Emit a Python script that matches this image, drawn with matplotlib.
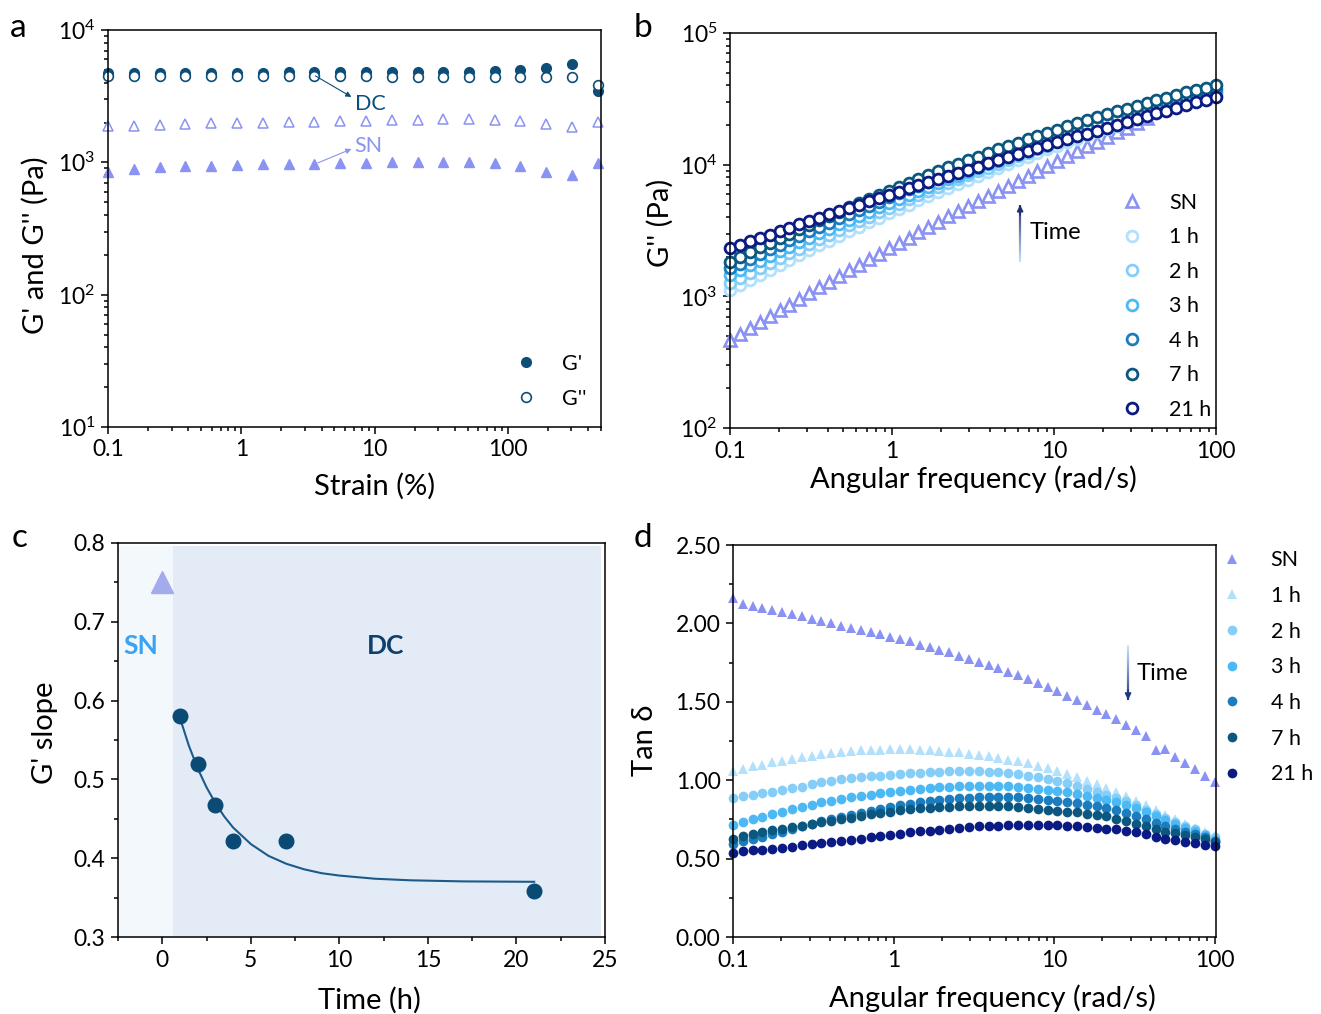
import numpy as np
import matplotlib
matplotlib.use("Agg")
import matplotlib.pyplot as plt
from matplotlib.collections import LineCollection
from matplotlib.ticker import MultipleLocator, LogLocator, NullFormatter
import matplotlib.colors as mcolors

plt.rcParams['font.family'] = ['Lato', 'DejaVu Sans']
plt.rcParams['mathtext.fontset'] = 'custom'
plt.rcParams['mathtext.rm'] = 'Lato'
plt.rcParams['mathtext.it'] = 'Lato:italic'
plt.rcParams['mathtext.default'] = 'regular'
plt.rcParams['axes.linewidth'] = 1.1

# ---------------- data ----------------
# panel a : strain sweep
strain = [0.1, 0.156, 0.244, 0.381, 0.594, 0.93, 1.45, 2.26, 3.53, 5.51,
          8.6, 13.4, 21.0, 32.7, 51.1, 79.7, 124, 194, 303, 473]
dc_gp = [4700, 4720, 4730, 4740, 4750, 4760, 4770, 4780, 4790, 4800,
         4810, 4820, 4830, 4840, 4850, 4870, 4950, 5200, 5550, 3450]
dc_gpp = [4480, 4470, 4460, 4460, 4460, 4460, 4460, 4460, 4460, 4460,
          4460, 4450, 4450, 4450, 4450, 4440, 4440, 4430, 4420, 3850]
sn_gpp = [1892, 1892, 1916, 1950, 1972, 1984, 1996, 2019, 2030, 2042,
          2066, 2090, 2100, 2113, 2113, 2100, 2066, 1950, 1862, 2006]
sn_gp = [839, 891, 917, 933, 944, 955, 966, 971, 977, 988,
         994, 1000, 1006, 1006, 1006, 988, 933, 849, 802, 983]

# angular frequency grid (rad/s)
omega = [0.1, 0.1151, 0.1326, 0.1526, 0.1758, 0.2024, 0.2330, 0.2683, 0.3089, 0.3556,
         0.4095, 0.4715, 0.5429, 0.6251, 0.7197, 0.8287, 0.9541, 1.0985, 1.2649, 1.4563,
         1.6768, 1.9307, 2.2230, 2.5595, 2.9471, 3.3932, 3.9069, 4.4984, 5.1795, 5.9636,
         6.8665, 7.9060, 9.1030, 10.481, 12.068, 13.895, 15.999, 18.421, 21.210, 24.421,
         28.118, 32.375, 37.276, 42.919, 49.417, 56.898, 65.512, 75.431, 86.851, 100.0]

time_labels = ['SN', '1 h', '2 h', '3 h', '4 h', '7 h', '21 h']

# panel b : G'' (Pa)
b_sn = [466, 517, 574, 636, 705, 781, 865, 957, 1058, 1169,
        1291, 1425, 1572, 1733, 1909, 2102, 2312, 2543, 2794, 3069,
        3370, 3695, 4052, 4440, 4862, 5318, 5817, 6362, 6946, 7584,
        8273, 9021, 9829, 10700, 11650, 12670, 13770, 14960, 16240, 17630,
        19120, 20720, 22440]
b_1h = [1117, 1222, 1337, 1461, 1594, 1739, 1895, 2063, 2245, 2440,
        2650, 2875, 3117, 3376, 3653, 3953, 4267, 4607, 4967, 5353,
        5764, 6200, 6663, 7155, 7674, 8228, 8810, 9428, 10080, 10770,
        11490, 12250, 13050, 13890, 14770, 15700, 16670, 17680, 18740, 19850,
        21000, 22200, 23440, 24740, 26080, 27470, 28910, 30410, 31950, 33540]
b_2h = [1259, 1376, 1503, 1640, 1788, 1948, 2120, 2305, 2503, 2716,
        2946, 3192, 3454, 3735, 4036, 4357, 4699, 5063, 5450, 5863,
        6300, 6763, 7253, 7776, 8326, 8906, 9517, 10160, 10850, 11560,
        12310, 13100, 13920, 14790, 15690, 16640, 17620, 18650, 19710, 20820,
        21980, 23180, 24420, 25700, 27030, 28400, 29810, 31260, 32760, 34290]
b_3h = [1452, 1580, 1718, 1866, 2025, 2196, 2380, 2578, 2788, 3016,
        3256, 3516, 3792, 4086, 4400, 4735, 5091, 5466, 5869, 6295,
        6745, 7223, 7729, 8264, 8828, 9422, 10050, 10710, 11400, 12130,
        12900, 13700, 14540, 15430, 16350, 17310, 18320, 19370, 20460, 21600,
        22780, 24010, 25270, 26600, 27960, 29380, 30830, 32350, 33890, 35500]
b_4h = [1633, 1776, 1929, 2094, 2270, 2459, 2663, 2881, 3114, 3363,
        3629, 3915, 4216, 4539, 4882, 5248, 5636, 6047, 6483, 6947,
        7433, 7955, 8502, 9077, 9683, 10320, 11000, 11710, 12450, 13230,
        14050, 14900, 15790, 16730, 17710, 18720, 19780, 20880, 22030, 23220,
        24460, 25730, 27060, 28430, 29840, 31300, 32810, 34360, 35950, 37580]
b_7h = [1832, 1994, 2166, 2353, 2553, 2767, 2998, 3243, 3506, 3788,
        4087, 4408, 4749, 5111, 5497, 5906, 6341, 6801, 7291, 7806,
        8350, 8924, 9528, 10170, 10840, 11540, 12280, 13060, 13870, 14720,
        15610, 16540, 17510, 18510, 19560, 20650, 21780, 22950, 24170, 25420,
        26720, 28050, 29440, 30860, 32320, 33830, 35360, 36940, 38550, 40190]
b_21h = [2317, 2461, 2615, 2776, 2945, 3125, 3316, 3516, 3727, 3953,
         4187, 4436, 4698, 4975, 5266, 5574, 5897, 6237, 6596, 6974,
         7370, 7790, 8228, 8690, 9175, 9685, 10220, 10790, 11370, 11990,
         12640, 13330, 14040, 14790, 15580, 16400, 17260, 18160, 19110, 20100,
         21130, 22220, 23350, 24530, 25770, 27060, 28400, 29820, 31280, 32820]

# panel c : G' slope vs time
c_sn_time = [0]
c_sn_slope = [0.75]
c_dc_time = [1, 2, 3, 4, 7, 21]
c_dc_slope = [0.58, 0.52, 0.468, 0.422, 0.422, 0.358]
c_fit_time = [1, 1.5, 2, 2.5, 3, 3.5, 4, 5, 6, 7, 8, 9, 10, 12, 14, 17, 21]
c_fit_slope = [0.578, 0.543, 0.514, 0.490, 0.470, 0.453, 0.439, 0.418, 0.403,
               0.393, 0.386, 0.381, 0.378, 0.374, 0.372, 0.3706, 0.3701]

# panel d : tan delta
d_sn = [2.16, 2.125, 2.11, 2.10, 2.085, 2.075, 2.06, 2.045, 2.03, 2.015,
        2.00, 1.985, 1.97, 1.96, 1.945, 1.93, 1.915, 1.90, 1.885, 1.865,
        1.85, 1.83, 1.815, 1.795, 1.775, 1.755, 1.735, 1.715, 1.69, 1.67,
        1.645, 1.62, 1.595, 1.57, 1.54, 1.51, 1.48, 1.45, 1.42, 1.39,
        1.35, 1.32, 1.28, 1.19, 1.20, 1.15, 1.11, 1.07, 1.03, 0.99]
d_1h = [1.056, 1.07, 1.088, 1.10, 1.114, 1.125, 1.135, 1.148, 1.156, 1.165,
        1.173, 1.18, 1.185, 1.19, 1.193, 1.195, 1.197, 1.198, 1.197, 1.195,
        1.192, 1.188, 1.183, 1.178, 1.17, 1.162, 1.153, 1.143, 1.132, 1.12,
        1.107, 1.092, 1.077, 1.06, 1.04, 1.02, 0.998, 0.975, 0.95, 0.925,
        0.898, 0.87, 0.84, 0.81, 0.78, 0.75, 0.72, 0.695, 0.67, 0.645]
d_2h = [0.888, 0.897, 0.907, 0.917, 0.928, 0.94, 0.95, 0.96, 0.975, 0.987,
        0.998, 1.008, 1.015, 1.02, 1.025, 1.03, 1.035, 1.04, 1.045, 1.049,
        1.052, 1.054, 1.056, 1.057, 1.057, 1.056, 1.053, 1.05, 1.045, 1.038,
        1.03, 1.02, 1.008, 0.995, 0.98, 0.962, 0.945, 0.927, 0.907, 0.887,
        0.865, 0.84, 0.812, 0.785, 0.758, 0.733, 0.71, 0.688, 0.66, 0.635]
d_3h = [0.716, 0.735, 0.752, 0.768, 0.784, 0.80, 0.815, 0.83, 0.845, 0.858,
        0.87, 0.88, 0.89, 0.899, 0.908, 0.916, 0.924, 0.932, 0.939, 0.945,
        0.95, 0.955, 0.959, 0.962, 0.964, 0.965, 0.965, 0.964, 0.961, 0.957,
        0.952, 0.946, 0.939, 0.931, 0.922, 0.912, 0.90, 0.888, 0.875, 0.86,
        0.843, 0.822, 0.797, 0.772, 0.745, 0.72, 0.698, 0.675, 0.652, 0.62]
d_4h = [0.595, 0.61, 0.624, 0.637, 0.654, 0.671, 0.688, 0.705, 0.722, 0.737,
        0.752, 0.764, 0.777, 0.79, 0.803, 0.816, 0.829, 0.839, 0.85, 0.858,
        0.866, 0.873, 0.879, 0.884, 0.887, 0.891, 0.893, 0.894, 0.893, 0.891,
        0.888, 0.882, 0.877, 0.87, 0.862, 0.853, 0.843, 0.833, 0.822, 0.808,
        0.794, 0.773, 0.752, 0.728, 0.705, 0.688, 0.673, 0.657, 0.641, 0.615]
d_7h = [0.625, 0.645, 0.658, 0.668, 0.68, 0.69, 0.70, 0.71, 0.72, 0.733,
        0.741, 0.752, 0.762, 0.773, 0.784, 0.79, 0.80, 0.807, 0.816, 0.82,
        0.824, 0.828, 0.831, 0.833, 0.835, 0.837, 0.837, 0.836, 0.834, 0.83,
        0.826, 0.818, 0.812, 0.806, 0.80, 0.795, 0.787, 0.778, 0.769, 0.753,
        0.737, 0.72, 0.705, 0.69, 0.673, 0.662, 0.652, 0.64, 0.625, 0.605]
d_21h = [0.539, 0.55, 0.553, 0.557, 0.561, 0.569, 0.577, 0.584, 0.592, 0.60,
         0.607, 0.613, 0.62, 0.628, 0.637, 0.645, 0.652, 0.66, 0.669, 0.674,
         0.679, 0.685, 0.692, 0.697, 0.701, 0.705, 0.708, 0.711, 0.714, 0.716,
         0.717, 0.716, 0.715, 0.713, 0.71, 0.707, 0.703, 0.698, 0.692, 0.686,
         0.679, 0.67, 0.658, 0.64, 0.624, 0.616, 0.609, 0.60, 0.59, 0.578]

# ---------------- styles ----------------
C_SN = '#8A93F3'
C_DC = '#0C4E7A'
time_colors = ['#8A93F3', '#B3E0FB', '#86CEF8', '#4CB9F5', '#1C7DBE', '#0C577F', '#0B1B83']
FS_TICK = 16.5
FS_LAB = 21
FS_LEG = 15.5
FS_PANEL = 24


def style_axis(ax):
    ax.tick_params(which='both', direction='out', width=1.1, top=False, right=False,
                   labelsize=FS_TICK, pad=4)
    ax.tick_params(which='major', length=5)
    ax.tick_params(which='minor', length=3)


def gradient_arrow(ax, x, y_start, y_end, c_start, c_end):
    n = 30
    frac = np.linspace(0, 1, n + 1)
    ys = y_start + (y_end - y_start) * frac
    segs = [[(x, ys[i]), (x, ys[i + 1])] for i in range(n)]
    c0 = np.array(mcolors.to_rgb(c_start))
    c1 = np.array(mcolors.to_rgb(c_end))
    cols = [tuple(c0 + (c1 - c0) * f) for f in frac[:-1]]
    lc = LineCollection(segs, colors=cols, linewidths=1.6, transform=ax.transAxes)
    ax.add_collection(lc, autolim=False)
    direction = 1 if y_end > y_start else -1
    ax.annotate('', xy=(x, y_end), xytext=(x, y_end - 0.025 * direction),
                xycoords='axes fraction', textcoords='axes fraction',
                arrowprops=dict(arrowstyle='-|>', color=c_end, lw=1.2,
                                mutation_scale=9, shrinkA=0, shrinkB=0))


fig = plt.figure(figsize=(13.21, 10.14), dpi=100)
axa = fig.add_axes([0.0818, 0.5789, 0.3732, 0.3915])
axb = fig.add_axes([0.5526, 0.5779, 0.3679, 0.3895])
axc = fig.add_axes([0.0893, 0.0759, 0.3687, 0.3886])
axd = fig.add_axes([0.5549, 0.0759, 0.3656, 0.3866])

# ---------------- panel a ----------------
axa.plot(strain, sn_gp, ls='none', marker='^', ms=7.5, color=C_SN, mec=C_SN, clip_on=False)
axa.plot(strain, sn_gpp, ls='none', marker='^', ms=7.5, mfc='white', mec=C_SN, mew=1.1, clip_on=False)
h_gp, = axa.plot(strain, dc_gp, ls='none', marker='o', ms=7, color=C_DC, mec=C_DC, clip_on=False)
h_gpp, = axa.plot(strain, dc_gpp, ls='none', marker='o', ms=7, mfc='white', mec=C_DC, mew=1.2, clip_on=False)
axa.set_xscale('log')
axa.set_yscale('log')
axa.set_xlim(0.1, 500)
axa.set_ylim(10, 1e4)
axa.set_xticks([0.1, 1, 10, 100])
axa.set_xticklabels(['0.1', '1', '10', '100'])
axa.set_yticks([10, 100, 1000, 10000])
axa.set_yticklabels([r'$10^{1}$', r'$10^{2}$', r'$10^{3}$', r'$10^{4}$'])
axa.xaxis.set_minor_locator(LogLocator(base=10, subs=np.arange(2, 10)))
axa.yaxis.set_minor_locator(LogLocator(base=10, subs=np.arange(2, 10)))
axa.xaxis.set_minor_formatter(NullFormatter())
axa.yaxis.set_minor_formatter(NullFormatter())
style_axis(axa)
axa.set_xlabel('Strain (%)', fontsize=FS_LAB)
axa.set_ylabel("G' and G'' (Pa)", fontsize=FS_LAB)
axa.xaxis.set_label_coords(0.54, -0.15)
axa.yaxis.set_label_coords(-0.148, 0.458)
axa.xaxis.label.set_va('center')
axa.yaxis.label.set_va('center')
axa.annotate('', xy=(6.7, 3120), xytext=(3.6, 4500),
             arrowprops=dict(arrowstyle='-|>', color=C_DC, lw=0.8, mutation_scale=8,
                             shrinkA=0, shrinkB=0))
axa.text(9.3, 2760, 'DC', color=C_DC, fontsize=15.5, ha='center', va='center')
axa.annotate('', xy=(6.7, 1262), xytext=(3.75, 990),
             arrowprops=dict(arrowstyle='-|>', color=C_SN, lw=0.8, mutation_scale=8,
                             shrinkA=0, shrinkB=0))
axa.text(9.0, 1330, 'SN', color=C_SN, fontsize=15.5, ha='center', va='center')
axa.legend([h_gp, h_gpp], ["G'", "G''"], loc='upper left', bbox_to_anchor=(0.8256, 0.184),
           frameon=False, fontsize=FS_LEG, handlelength=1.0, handletextpad=1.16,
           labelspacing=0.68, borderpad=0, borderaxespad=0)

# ---------------- panel b ----------------
b_series = [b_1h, b_2h, b_3h, b_4h, b_7h, b_21h]
handles_b = []
h, = axb.plot(omega[:len(b_sn)], b_sn, ls='none', marker='^', ms=9, mfc='none',
              mec=time_colors[0], mew=1.9, clip_on=False)
handles_b.append(h)
for vals, col in zip(b_series, time_colors[1:]):
    h, = axb.plot(omega, vals, ls='none', marker='o', ms=7.8, mfc='white', mec=col,
                  mew=2.0, clip_on=False)
    handles_b.append(h)
axb.set_xscale('log')
axb.set_yscale('log')
axb.set_xlim(0.1, 100)
axb.set_ylim(100, 1e5)
axb.set_xticks([0.1, 1, 10, 100])
axb.set_xticklabels(['0.1', '1', '10', '100'])
axb.set_yticks([100, 1000, 10000, 100000])
axb.set_yticklabels([r'$10^{2}$', r'$10^{3}$', r'$10^{4}$', r'$10^{5}$'])
axb.xaxis.set_minor_locator(LogLocator(base=10, subs=np.arange(2, 10)))
axb.yaxis.set_minor_locator(LogLocator(base=10, subs=np.arange(2, 10)))
axb.xaxis.set_minor_formatter(NullFormatter())
axb.yaxis.set_minor_formatter(NullFormatter())
style_axis(axb)
axb.set_xlabel('Angular frequency (rad/s)', fontsize=FS_LAB)
axb.set_ylabel("G'' (Pa)", fontsize=FS_LAB)
axb.xaxis.set_label_coords(0.50, -0.13)
axb.yaxis.set_label_coords(-0.144, 0.52)
axb.xaxis.label.set_va('center')
axb.yaxis.label.set_va('center')
axb.legend(handles_b, time_labels, loc='upper left', bbox_to_anchor=(0.8045, 0.595),
           frameon=False, fontsize=FS_LEG, handlelength=1.0, handletextpad=1.25,
           labelspacing=0.67, borderpad=0, borderaxespad=0)
gradient_arrow(axb, 0.597, 0.42, 0.565, '#C8DDF8', '#1F2F70')
axb.text(0.617, 0.494, 'Time', transform=axb.transAxes, fontsize=17, ha='left', va='center')

# ---------------- panel c ----------------
axc.axvspan(-2.5, 0.6, ymin=0, ymax=0.993, color='#F3F8FD', lw=0, zorder=0)
axc.axvspan(0.6, 24.75, ymin=0, ymax=0.993, color='#E3ECF6', lw=0, zorder=0)
axc.plot(c_fit_time, c_fit_slope, color='#1B5A8A', lw=1.5, zorder=2)
axc.plot(c_sn_time, c_sn_slope, ls='none', marker='^', ms=16, color='#A3ABEC', zorder=3)
axc.plot(c_dc_time, c_dc_slope, ls='none', marker='o', ms=10.5, color='#0B4A75', zorder=3)
axc.set_xlim(-2.5, 25)
axc.set_ylim(0.3, 0.8)
axc.xaxis.set_major_locator(MultipleLocator(5))
axc.xaxis.set_minor_locator(MultipleLocator(2.5))
axc.yaxis.set_major_locator(MultipleLocator(0.1))
axc.yaxis.set_minor_locator(MultipleLocator(0.05))
axc.set_yticks([0.3, 0.4, 0.5, 0.6, 0.7, 0.8])
axc.set_yticklabels(['0.3', '0.4', '0.5', '0.6', '0.7', '0.8'])
style_axis(axc)
axc.set_xlabel('Time (h)', fontsize=FS_LAB)
axc.set_ylabel("G' slope", fontsize=FS_LAB)
axc.xaxis.set_label_coords(0.517, -0.16)
axc.yaxis.set_label_coords(-0.15, 0.518)
axc.xaxis.label.set_va('center')
axc.yaxis.label.set_va('center')
axc.text(-1.2, 0.669, 'SN', color='#3BA3F3', fontsize=19, fontweight='bold', ha='center', va='center')
axc.text(12.6, 0.669, 'DC', color='#0E3F6E', fontsize=19, fontweight='bold', ha='center', va='center')

# ---------------- panel d ----------------
d_series = [d_sn, d_1h, d_2h, d_3h, d_4h, d_7h, d_21h]
d_markers = ['^', '^', 'o', 'o', 'o', 'o', 'o']
handles_d = []
for vals, col, mk in zip(d_series, time_colors, d_markers):
    h, = axd.plot(omega, vals, ls='none', marker=mk, ms=7.8 if mk == '^' else 7.0,
                  color=col, mec=col, mew=0, clip_on=False)
    handles_d.append(h)
axd.set_xscale('log')
axd.set_xlim(0.1, 102)
axd.set_ylim(0, 2.5)
axd.set_xticks([0.1, 1, 10, 100])
axd.set_xticklabels(['0.1', '1', '10', '100'])
axd.xaxis.set_minor_locator(LogLocator(base=10, subs=np.arange(2, 10)))
axd.xaxis.set_minor_formatter(NullFormatter())
axd.set_yticks([0, 0.5, 1.0, 1.5, 2.0, 2.5])
axd.set_yticklabels(['0.00', '0.50', '1.00', '1.50', '2.00', '2.50'])
axd.yaxis.set_minor_locator(MultipleLocator(0.25))
style_axis(axd)
axd.set_xlabel('Angular frequency (rad/s)', fontsize=FS_LAB)
axd.set_ylabel('Tan δ', fontsize=FS_LAB)
axd.xaxis.set_label_coords(0.538, -0.156)
axd.yaxis.set_label_coords(-0.182, 0.503)
axd.xaxis.label.set_va('center')
axd.yaxis.label.set_va('center')
axd.legend(handles_d, time_labels, loc='upper left', bbox_to_anchor=(1.0104, 0.987),
           frameon=False, fontsize=FS_LEG, handlelength=1.0, handletextpad=1.3,
           labelspacing=0.73, borderpad=0, borderaxespad=0)
gradient_arrow(axd, 0.818, 0.745, 0.605, '#D0E4FA', '#1E3580')
axd.text(0.836, 0.673, 'Time', transform=axd.transAxes, fontsize=17, ha='left', va='center')

# ---------------- panel letters ----------------
fig.text(18 / 1321, 1 - 28 / 1014, 'a', fontsize=FS_PANEL, ha='center', va='center')
fig.text(643 / 1321, 1 - 28 / 1014, 'b', fontsize=FS_PANEL, ha='center', va='center')
fig.text(20 / 1321, 1 - 538 / 1014, 'c', fontsize=FS_PANEL, ha='center', va='center')
fig.text(643 / 1321, 1 - 538 / 1014, 'd', fontsize=FS_PANEL, ha='center', va='center')

fig.savefig('out.png', dpi=100)
